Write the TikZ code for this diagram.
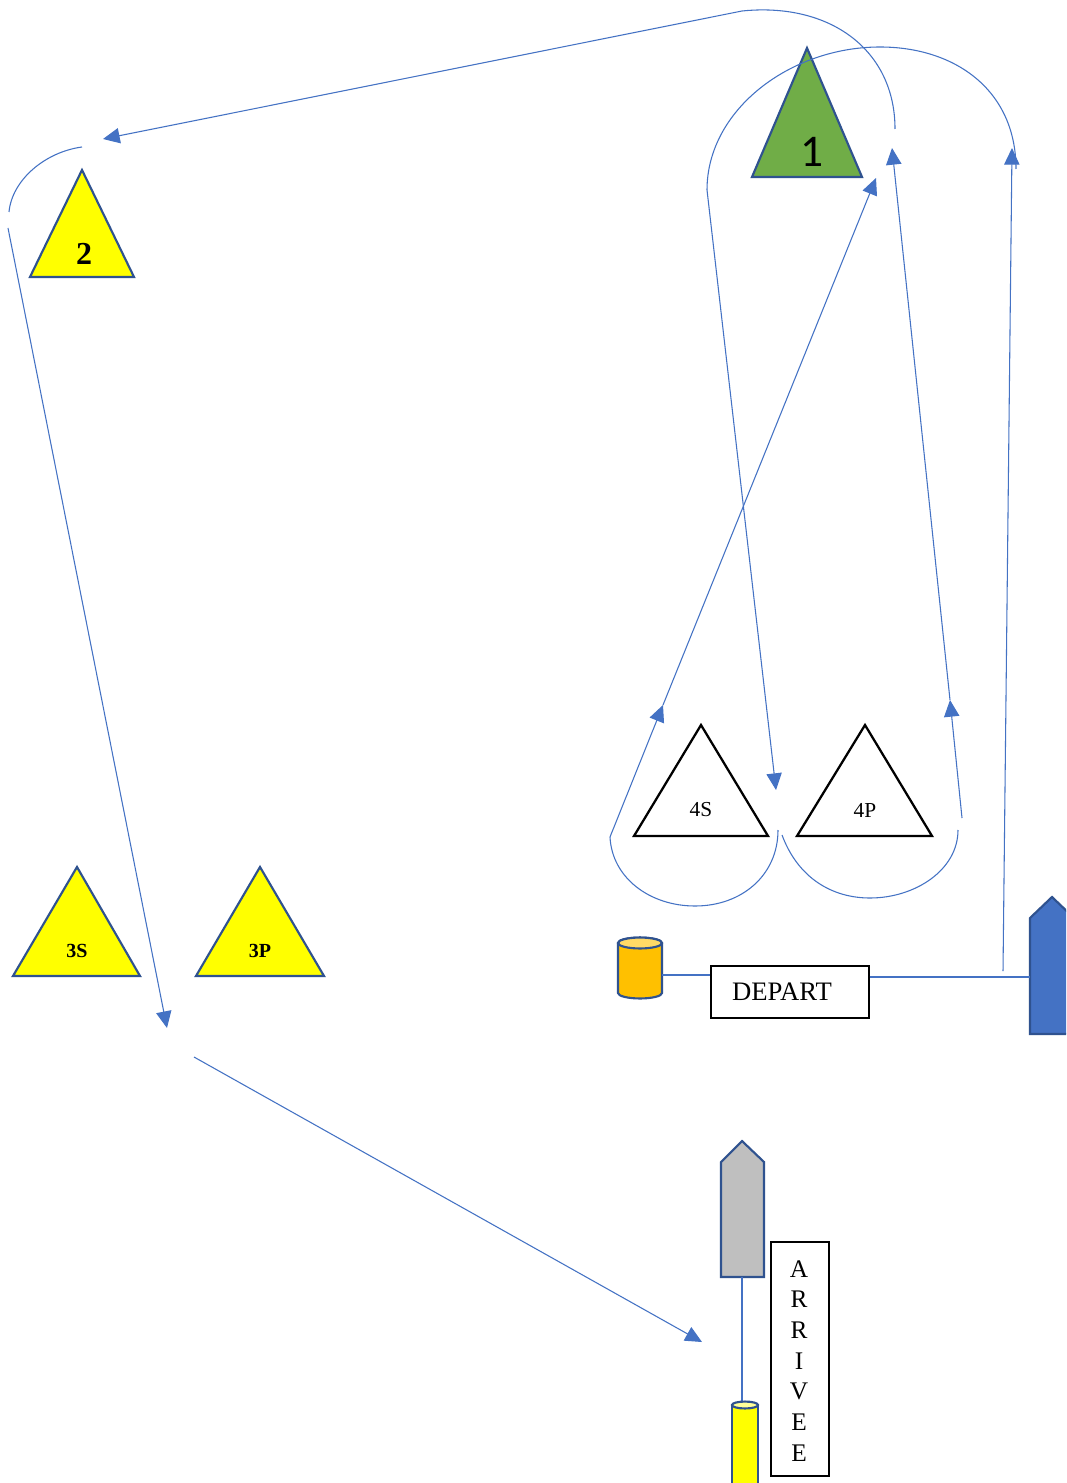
\documentclass[tikz,border=0pt]{standalone}
\usepackage{fontspec}
\setmainfont{Liberation Serif}
\newfontfamily\calibrifont{Carlito}
\usetikzlibrary{arrows.meta}
\definecolor{lineblue}{HTML}{4472C4}
\definecolor{edgeblue}{HTML}{2F528F}
\definecolor{markgreen}{HTML}{70AD47}
\definecolor{markyellow}{HTML}{FFFF00}
\definecolor{cylorange}{HTML}{FFC000}
\definecolor{cyltop}{HTML}{FFD966}
\definecolor{cylyellowtop}{HTML}{FFFF99}
\definecolor{boatgray}{HTML}{BFBFBF}
\definecolor{boatblue}{HTML}{4472C4}
\begin{document}
\begin{tikzpicture}[x=0.75pt,y=-0.75pt,
  route/.style={draw=lineblue, line width=0.8pt},
  routearrow/.style={route, -{Triangle[length=12.5pt,width=11.5pt]}},
  buoy/.style={draw=edgeblue, line width=1.6pt, line join=miter},
  gatemark/.style={draw=black, line width=1.7pt, line join=miter},
  lbl/.style={inner sep=0pt},
  framebox/.style={draw=black, line width=1.2pt, inner sep=0pt, anchor=north west},
]
\clip (0,0) rectangle (1066,1483);
\fill[white] (0,0) rectangle (1066,1483);

% --- marks ---
\filldraw[buoy, fill=markgreen] (807,48) -- (862,177) -- (752,177) -- cycle;
\node[lbl, font=\calibrifont\fontsize{34}{34}\selectfont] (m1) at (812,152) {1};

\filldraw[buoy, fill=markyellow] (82,170) -- (134,277) -- (30,277) -- cycle;
\node[lbl, font=\bfseries\fontsize{24}{24}\selectfont] (m2) at (84,254) {2};

\filldraw[buoy, fill=markyellow] (77,867) -- (140,976) -- (13,976) -- cycle;
\node[lbl, font=\bfseries\fontsize{15}{15}\selectfont] (m3s) at (77,951) {3S};
\filldraw[buoy, fill=markyellow] (260,867) -- (324,976) -- (196,976) -- cycle;
\node[lbl, font=\bfseries\fontsize{15}{15}\selectfont] (m3p) at (260,951) {3P};

\draw[gatemark, fill=white] (701,725) -- (768,836) -- (634,836) -- cycle;
\node[lbl, font=\fontsize{16}{16}\selectfont] (m4s) at (701,810) {4S};
\draw[gatemark, fill=white] (865,725) -- (932,836) -- (797,836) -- cycle;
\node[lbl, font=\fontsize{16}{16}\selectfont] (m4p) at (865,810) {4P};

% --- start line ---
\coordinate (cylR) at (662,975);
\coordinate (boatL) at (1030,977);
\filldraw[buoy, fill=cylorange] (618,943) -- (618,993)
  arc[start angle=180, end angle=360, x radius=16.5pt, y radius=4.1pt] -- (662,943)
  arc[start angle=0, end angle=180, x radius=16.5pt, y radius=4.1pt] -- cycle;
\filldraw[buoy, fill=cyltop] (640,943) ellipse[x radius=16.5pt, y radius=4.1pt];
\node[framebox, minimum width=118.5pt, minimum height=39pt] (depart) at (710,965) {};
\node[lbl, font=\fontsize{20}{20}\selectfont] (departtext) at (782,992) {DEPART};
\filldraw[buoy, fill=boatblue] (1030,1034) -- (1030,918) -- (1052,897) -- (1074,918) -- (1074,1034) -- cycle;
\draw[route] (cylR) -- (depart.west |- cylR);
\draw[route] (depart.east |- boatL) -- (boatL);

% --- finish line ---
\coordinate (grayB) at (742,1277);
\coordinate (ycylT) at (742,1402);
\filldraw[buoy, fill=boatgray] (721,1277) -- (721,1162) -- (742,1141) -- (764,1162) -- (764,1277) -- cycle;
\draw[route] (grayB) -- (ycylT);
\filldraw[buoy, fill=markyellow] (732,1405) -- (732,1500) -- (758,1500) -- (758,1405) -- cycle;
\filldraw[buoy, fill=cylyellowtop] (745,1405) ellipse[x radius=9.75pt, y radius=2.6pt];
\node[framebox, minimum width=43.5pt, minimum height=175.5pt] (arrivee) at (770,1241) {};
\foreach \L [count=\i] in {A,R,R,I,V,E,E}
  \node[lbl, anchor=base, font=\fontsize{19}{19}\selectfont] (arr\i) at (799,{1277+(\i-1)*30.7}) {\L};

% --- route ---
\coordinate (s1) at (1003,971);
\coordinate (s2) at (1012,148);
\draw[routearrow] (s1) -- (s2);

\coordinate (a1) at (1016,169);
\coordinate (a2) at (707,190);
\coordinate (g1) at (776,790);
\draw[route] (a1) .. controls (1016,90) and (955,47) .. (880,47)
             .. controls (790,47) and (707,110) .. (a2);
\draw[routearrow] (a2) -- (g1);

\coordinate (b1) at (782,835);
\coordinate (b2) at (958,830);
\draw[route] (b1) .. controls (798,878) and (832,898) .. (870,898)
             .. controls (915,898) and (958,870) .. (b2);
\coordinate (c1) at (962,818);
\coordinate (c2) at (950,700);
\coordinate (c3) at (892,148);
\draw[routearrow] (c1) -- (c2);
\draw[routearrow] (c2) -- (c3);

\coordinate (d1) at (895,129);
\coordinate (d2) at (742,11);
\coordinate (d3) at (103,139);
\draw[route] (d1) .. controls (895,50) and (830,2) .. (d2);
\draw[routearrow] (d2) -- (d3);

\coordinate (f1) at (82,147);
\coordinate (f2) at (9,212);
\draw[route] (f1) .. controls (45,152) and (12,180) .. (f2);
\coordinate (h1) at (8,228);
\coordinate (h2) at (167,1028);
\draw[routearrow] (h1) -- (h2);
\coordinate (k1) at (194,1057);
\coordinate (k2) at (702,1342);
\draw[routearrow] (k1) -- (k2);

\coordinate (e1) at (778,830);
\coordinate (e2) at (610,837);
\coordinate (e3) at (663,705);
\coordinate (e4) at (876,178);
\draw[route] (e1) .. controls (778,875) and (742,906) .. (695,906)
             .. controls (650,906) and (612,878) .. (e2);
\draw[routearrow] (e2) -- (e3);
\draw[routearrow] (e3) -- (e4);
\end{tikzpicture}
\end{document}
